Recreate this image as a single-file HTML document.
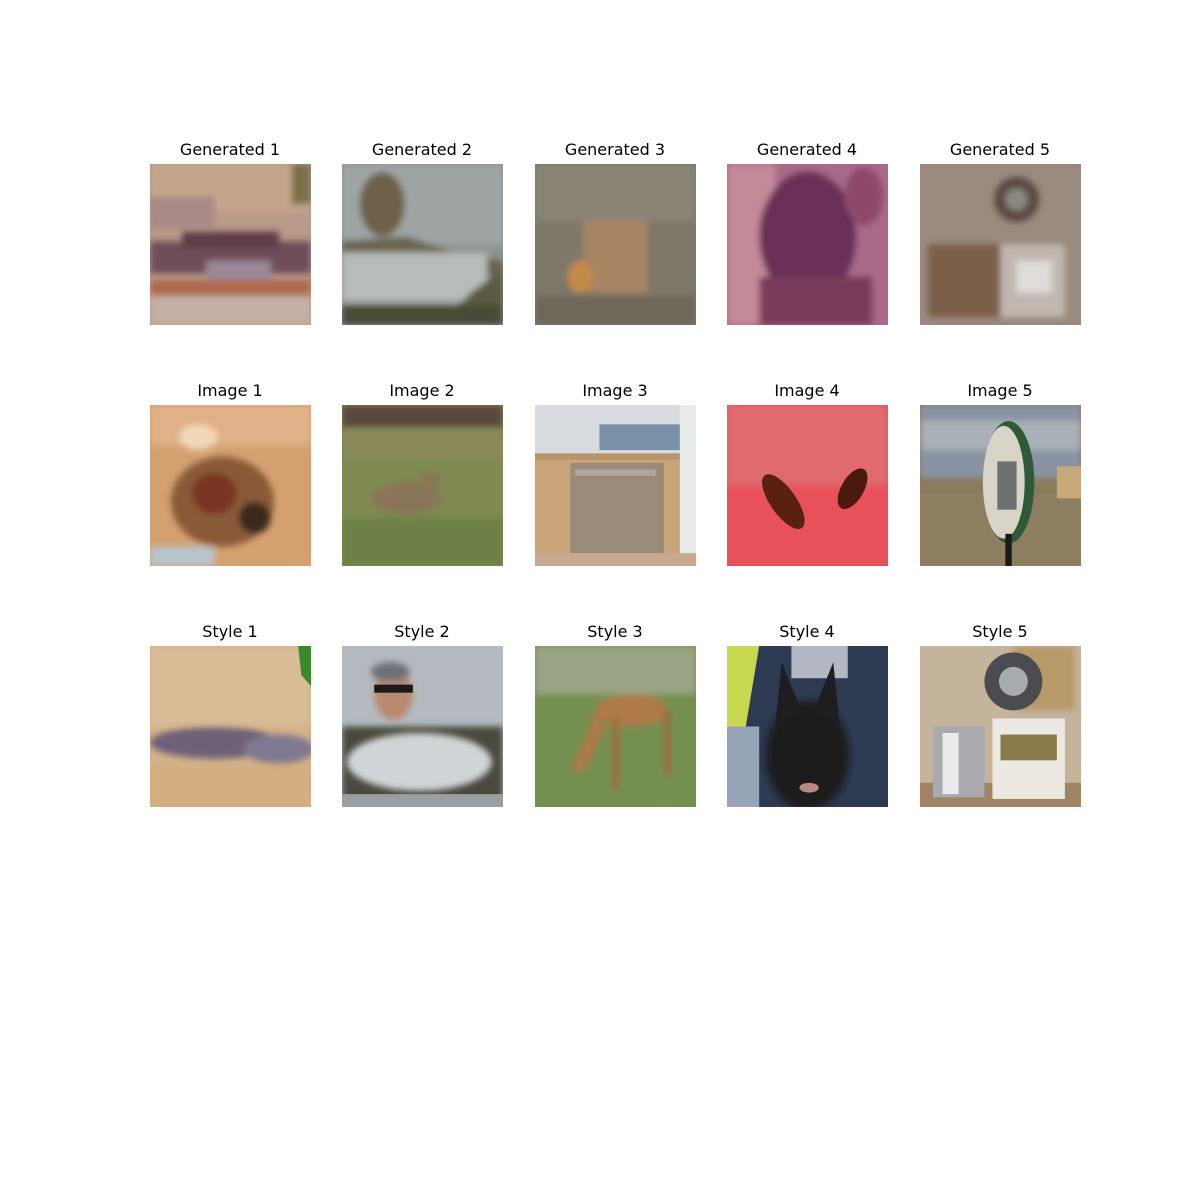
<!DOCTYPE html>
<html><head><meta charset="utf-8"><style>
body{margin:0;background:#fff;width:1200px;height:1200px;position:relative;overflow:hidden;font-family:"DejaVu Sans","Liberation Sans",sans-serif}
.t{position:absolute;width:200px;text-align:center;font-size:16px;color:#000;line-height:18px}
.i{position:absolute;width:161px;height:161px}
.i svg{width:161px;height:161px;display:block}
</style></head><body>

<!-- Row 1: Generated -->
<div class="t" style="left:130px;top:141px">Generated 1</div>
<div class="i" style="left:150px;top:164px"><svg viewBox="0 0 100 100" preserveAspectRatio="none">
<defs><filter id="b"><feGaussianBlur stdDeviation="2"/></filter></defs>
<rect width="100" height="100" fill="#b89a88"/>
<g filter="url(#b)"><rect x="0" y="0" width="100" height="30" fill="#c4a58c"/><rect x="0" y="20" width="40" height="20" fill="#a88a86"/><rect x="88" y="0" width="12" height="25" fill="#7a7048"/>
<rect x="0" y="48" width="100" height="20" fill="#6e4e58"/><rect x="20" y="42" width="60" height="10" fill="#5e3e48"/><rect x="35" y="60" width="40" height="12" fill="#9a8898"/>
<rect x="0" y="72" width="100" height="10" fill="#b06a50"/><rect x="0" y="82" width="100" height="18" fill="#c4b0a4"/></g></svg></div>

<div class="t" style="left:322px;top:141px">Generated 2</div>
<div class="i" style="left:342px;top:164px"><svg viewBox="0 0 100 100" preserveAspectRatio="none">
<rect width="100" height="100" fill="#8e9490"/>
<g filter="url(#b)"><rect x="0" y="0" width="100" height="50" fill="#9ea4a4"/><ellipse cx="25" cy="25" rx="14" ry="20" fill="#6e6048"/>
<polygon points="0,48 40,45 70,55 100,60 100,70 0,55" fill="#6a6450"/><rect x="0" y="55" width="90" height="30" fill="#b8bcb8"/><polygon points="60,100 80,80 100,65 100,100" fill="#5a5a40"/><rect x="0" y="88" width="100" height="12" fill="#4a4838"/></g></svg></div>

<div class="t" style="left:515px;top:141px">Generated 3</div>
<div class="i" style="left:535px;top:164px"><svg viewBox="0 0 100 100" preserveAspectRatio="none">
<rect width="100" height="100" fill="#7e7868"/>
<g filter="url(#b)"><rect x="0" y="0" width="100" height="35" fill="#8a8474"/><rect x="30" y="35" width="40" height="45" fill="#a88464"/><ellipse cx="28" cy="70" rx="8" ry="10" fill="#c48a48"/>
<rect x="0" y="82" width="100" height="18" fill="#6e685a"/></g></svg></div>

<div class="t" style="left:707px;top:141px">Generated 4</div>
<div class="i" style="left:727px;top:164px"><svg viewBox="0 0 100 100" preserveAspectRatio="none">
<rect width="100" height="100" fill="#a86a88"/>
<g filter="url(#b)"><rect x="0" y="0" width="30" height="100" fill="#c48a9a"/><ellipse cx="50" cy="45" rx="30" ry="40" fill="#6a2e58"/><rect x="20" y="70" width="70" height="30" fill="#7a3a5a"/><ellipse cx="85" cy="20" rx="12" ry="18" fill="#8e4a6a"/></g></svg></div>

<div class="t" style="left:900px;top:141px">Generated 5</div>
<div class="i" style="left:920px;top:164px"><svg viewBox="0 0 100 100" preserveAspectRatio="none">
<rect width="100" height="100" fill="#9a8a7e"/>
<g filter="url(#b)"><circle cx="60" cy="22" r="14" fill="#5a4a44"/><circle cx="60" cy="22" r="7" fill="#8a8a80"/><rect x="5" y="50" width="45" height="45" fill="#7a5e48"/><rect x="50" y="50" width="40" height="45" fill="#c0b8b0"/><rect x="60" y="60" width="22" height="20" fill="#e0dcd8"/></g></svg></div>

<!-- Row 2: Image -->
<div class="t" style="left:130px;top:382px">Image 1</div>
<div class="i" style="left:150px;top:405px"><svg viewBox="0 0 100 100" preserveAspectRatio="none">
<rect width="100" height="100" fill="#d4a070"/>
<g filter="url(#b)"><rect x="0" y="0" width="100" height="25" fill="#e0b088"/><ellipse cx="45" cy="60" rx="32" ry="28" fill="#8a5a38"/><ellipse cx="40" cy="55" rx="14" ry="13" fill="#7a3422"/><ellipse cx="65" cy="70" rx="10" ry="10" fill="#3a2a1e"/><rect x="0" y="88" width="40" height="12" fill="#b8c4cc"/><ellipse cx="30" cy="20" rx="12" ry="8" fill="#f0d8b8"/></g></svg></div>

<div class="t" style="left:322px;top:382px">Image 2</div>
<div class="i" style="left:342px;top:405px"><svg viewBox="0 0 100 100" preserveAspectRatio="none">
<rect width="100" height="100" fill="#7e8a52"/>
<g filter="url(#b)"><rect x="0" y="0" width="100" height="14" fill="#5a4a3e"/><rect x="0" y="14" width="100" height="20" fill="#8a8a5a"/><ellipse cx="40" cy="58" rx="22" ry="10" fill="#8a7458"/><ellipse cx="55" cy="46" rx="6" ry="5" fill="#8a7458"/><rect x="0" y="70" width="100" height="30" fill="#6e8046"/></g></svg></div>

<div class="t" style="left:515px;top:382px">Image 3</div>
<div class="i" style="left:535px;top:405px"><svg viewBox="0 0 100 100" preserveAspectRatio="none">
<rect width="100" height="100" fill="#c8a478"/>
<rect x="0" y="0" width="100" height="32" fill="#d8dce0"/><rect x="40" y="12" width="50" height="16" fill="#7a90a8"/><rect x="0" y="30" width="90" height="4" fill="#b8946a"/>
<rect x="22" y="36" width="58" height="56" fill="#9a8a78"/><rect x="25" y="40" width="50" height="4" fill="#b0a8a0"/><rect x="90" y="0" width="10" height="100" fill="#e8ece8"/><rect x="0" y="92" width="100" height="8" fill="#c8a890"/></svg></div>

<div class="t" style="left:707px;top:382px">Image 4</div>
<div class="i" style="left:727px;top:405px"><svg viewBox="0 0 100 100" preserveAspectRatio="none">
<rect width="100" height="100" fill="#e8505a"/>
<g filter="url(#b)"><rect x="0" y="0" width="100" height="50" fill="#e06a70"/></g>
<ellipse cx="35" cy="60" rx="8" ry="20" transform="rotate(-35 35 60)" fill="#5a2010"/><ellipse cx="78" cy="52" rx="7" ry="14" transform="rotate(30 78 52)" fill="#4a1a10"/></svg></div>

<div class="t" style="left:900px;top:382px">Image 5</div>
<div class="i" style="left:920px;top:405px"><svg viewBox="0 0 100 100" preserveAspectRatio="none">
<rect width="100" height="100" fill="#8a7a5e"/>
<g filter="url(#b)"><rect x="0" y="0" width="100" height="45" fill="#8894a4"/><rect x="0" y="10" width="100" height="18" fill="#aab0b8"/></g>
<rect x="0" y="55" width="100" height="45" fill="#8e7e60"/><rect x="85" y="38" width="15" height="20" fill="#c8a878"/>
<ellipse cx="55" cy="48" rx="16" ry="38" fill="#2e5a3a"/><ellipse cx="52" cy="48" rx="13" ry="35" fill="#d8d4c8"/><rect x="48" y="35" width="12" height="30" fill="#707070"/><rect x="53" y="80" width="4" height="20" fill="#1a1a1a"/></svg></div>

<!-- Row 3: Style -->
<div class="t" style="left:130px;top:623px">Style 1</div>
<div class="i" style="left:150px;top:646px"><svg viewBox="0 0 100 100" preserveAspectRatio="none">
<rect width="100" height="100" fill="#d2b088"/>
<g filter="url(#b)"><rect x="0" y="0" width="100" height="50" fill="#d8bc96"/><ellipse cx="40" cy="60" rx="40" ry="10" fill="#6e6078"/><ellipse cx="80" cy="64" rx="22" ry="9" fill="#807890"/><rect x="0" y="75" width="100" height="25" fill="#d4ae80"/></g>
<polygon points="92,0 100,0 100,25 94,18" fill="#3a8a2a"/></svg></div>

<div class="t" style="left:322px;top:623px">Style 2</div>
<div class="i" style="left:342px;top:646px"><svg viewBox="0 0 100 100" preserveAspectRatio="none">
<rect width="100" height="100" fill="#b4bac0"/>
<g filter="url(#b)"><rect x="0" y="50" width="100" height="50" fill="#4a4a3e"/><ellipse cx="32" cy="30" rx="12" ry="16" fill="#b88a70"/><ellipse cx="30" cy="16" rx="12" ry="6" fill="#6e7076"/></g>
<rect x="20" y="24" width="24" height="5" fill="#1a1a1a"/>
<g filter="url(#b)"><ellipse cx="48" cy="72" rx="45" ry="18" fill="#d0d4d6"/></g><rect x="0" y="92" width="100" height="8" fill="#9a9ea0"/></svg></div>

<div class="t" style="left:515px;top:623px">Style 3</div>
<div class="i" style="left:535px;top:646px"><svg viewBox="0 0 100 100" preserveAspectRatio="none">
<rect width="100" height="100" fill="#74904e"/>
<g filter="url(#b)"><rect x="0" y="0" width="100" height="30" fill="#9aa484"/><ellipse cx="60" cy="40" rx="22" ry="10" fill="#b07a48"/><polygon points="38,40 30,60 22,78 30,78 44,50" fill="#b07a48"/><rect x="48" y="44" width="4" height="45" fill="#a06a3e"/><rect x="80" y="40" width="4" height="40" fill="#a06a3e"/></g></svg></div>

<div class="t" style="left:707px;top:623px">Style 4</div>
<div class="i" style="left:727px;top:646px"><svg viewBox="0 0 100 100" preserveAspectRatio="none">
<rect width="100" height="100" fill="#2e3a52"/>
<polygon points="0,0 20,0 10,60 0,60" fill="#c8d850"/><rect x="0" y="50" width="20" height="50" fill="#98a4b8"/><rect x="40" y="0" width="35" height="20" fill="#b4b8c4"/>
<g filter="url(#b)"><ellipse cx="50" cy="68" rx="26" ry="34" fill="#1c1c1e"/></g>
<polygon points="30,50 34,10 46,40" fill="#1e1e20"/><polygon points="70,50 66,10 54,40" fill="#1e1e20"/><ellipse cx="51" cy="88" rx="6" ry="3" fill="#b88a80"/></svg></div>

<div class="t" style="left:900px;top:623px">Style 5</div>
<div class="i" style="left:920px;top:646px"><svg viewBox="0 0 100 100" preserveAspectRatio="none">
<rect width="100" height="100" fill="#c4b49c"/>
<rect x="0" y="85" width="100" height="15" fill="#a08464"/>
<g filter="url(#b)"><rect x="58" y="0" width="38" height="40" fill="#b89a6a"/></g>
<circle cx="58" cy="22" r="18" fill="#4a4c50"/><circle cx="58" cy="22" r="9" fill="#a8acb0"/>
<rect x="8" y="50" width="32" height="44" fill="#a8aab0"/><rect x="14" y="54" width="10" height="38" fill="#e8eaec"/>
<rect x="45" y="45" width="45" height="50" fill="#ece8e2"/><rect x="50" y="55" width="35" height="16" fill="#8a7a4a"/></svg></div>

</body></html>
